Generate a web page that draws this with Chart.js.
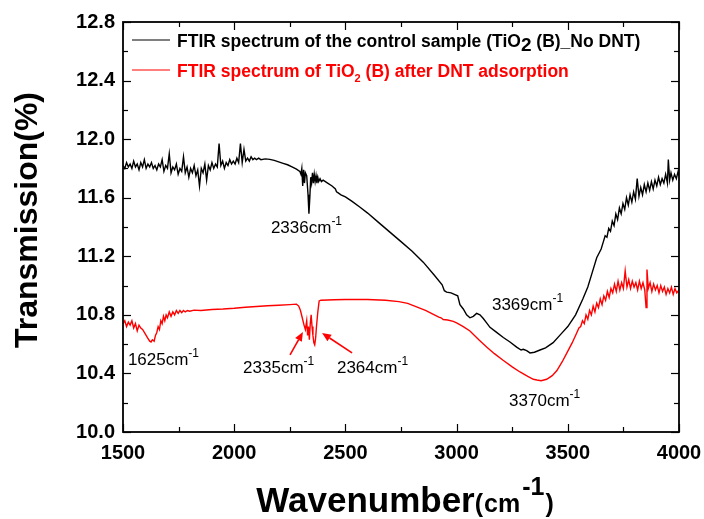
<!DOCTYPE html>
<html>
<head>
<meta charset="utf-8">
<title>FTIR spectra of TiO2 (B)</title>
<script src="https://cdn.jsdelivr.net/npm/chart.js@4.4.1/dist/chart.umd.min.js"></script>
<style>
  html, body { margin: 0; padding: 0; background: #fff; }
  canvas { display: block; }
</style>
</head>
<body>
<canvas id="ftirChart" width="704" height="519"></canvas>
<script>
// === Spectrum data: [wavenumber (cm-1), transmission (%)] ===

// Control sample, TiO2 (B) without DNT
const controlSpectrum = [
  [1500, 11.82], [1508, 11.80], [1516, 11.84], [1524, 11.81], [1532, 11.83], [1540, 11.80],
  [1548, 11.85], [1556, 11.81], [1564, 11.83], [1572, 11.79], [1580, 11.84], [1588, 11.81],
  [1596, 11.86], [1604, 11.80], [1612, 11.83], [1620, 11.81], [1628, 11.84], [1636, 11.80],
  [1644, 11.82], [1652, 11.79], [1660, 11.83], [1668, 11.81], [1676, 11.86], [1684, 11.78],
  [1692, 11.82], [1700, 11.80], [1708, 11.90], [1716, 11.77], [1724, 11.81], [1732, 11.79],
  [1740, 11.83], [1748, 11.76], [1756, 11.80], [1764, 11.78], [1772, 11.88], [1780, 11.77],
  [1788, 11.81], [1796, 11.74], [1804, 11.80], [1812, 11.77], [1820, 11.82], [1828, 11.75],
  [1836, 11.79], [1844, 11.68], [1852, 11.80], [1860, 11.77], [1868, 11.83], [1876, 11.72],
  [1884, 11.82], [1892, 11.79], [1900, 11.84], [1908, 11.80], [1916, 11.83], [1924, 11.81],
  [1932, 11.97], [1940, 11.82], [1948, 11.85], [1956, 11.80], [1964, 11.84], [1972, 11.82],
  [1980, 11.86], [1988, 11.83], [1996, 11.85], [2004, 11.83], [2012, 11.87], [2020, 11.84],
  [2028, 11.97], [2036, 11.84], [2044, 11.93], [2052, 11.85], [2060, 11.87], [2068, 11.85],
  [2076, 11.88], [2084, 11.86], [2092, 11.87], [2100, 11.86], [2110, 11.87], [2120, 11.86],
  [2140, 11.865], [2160, 11.862], [2180, 11.855], [2200, 11.845], [2220, 11.835], [2240, 11.825],
  [2260, 11.81], [2280, 11.795], [2295, 11.78],
  // CO2 region, band at 2336
  [2300, 11.76], [2304, 11.80], [2308, 11.68], [2312, 11.79], [2316, 11.70], [2320, 11.77],
  [2326, 11.75], [2332, 11.62], [2336, 11.49], [2340, 11.60], [2344, 11.74], [2348, 11.70],
  [2352, 11.77], [2356, 11.70], [2360, 11.76], [2364, 11.71], [2368, 11.75], [2372, 11.70],
  [2376, 11.74], [2380, 11.71], [2386, 11.73], [2392, 11.71], [2400, 11.72], [2410, 11.71],
  [2420, 11.70], [2440, 11.68], [2455, 11.66], [2460, 11.64], [2466, 11.635], [2480, 11.62],
  [2500, 11.605], [2530, 11.575], [2566, 11.535], [2600, 11.495], [2650, 11.43], [2700, 11.365],
  [2750, 11.30], [2800, 11.235], [2850, 11.16], [2900, 11.07], [2935, 11.005], [2945, 10.965],
  [2955, 10.955], [2975, 10.95], [2990, 10.94], [3005, 10.93], [3015, 10.87], [3030, 10.84],
  [3045, 10.80], [3060, 10.78], [3075, 10.79], [3090, 10.81], [3105, 10.80], [3120, 10.775],
  [3135, 10.745], [3150, 10.715], [3180, 10.68], [3210, 10.645], [3240, 10.615], [3270, 10.58],
  [3290, 10.56], [3300, 10.565], [3315, 10.555], [3330, 10.54], [3350, 10.545], [3375, 10.56],
  [3400, 10.575], [3434, 10.61], [3470, 10.67], [3500, 10.72], [3535, 10.80], [3568, 10.91],
  [3590, 10.99], [3610, 11.09], [3630, 11.19], [3650, 11.25], [3660, 11.30],
  [3668, 11.34], [3676, 11.33], [3684, 11.39], [3692, 11.37], [3700, 11.44], [3708, 11.41],
  [3716, 11.49], [3724, 11.45], [3732, 11.53], [3740, 11.49], [3748, 11.56], [3756, 11.52],
  [3764, 11.60], [3772, 11.55], [3780, 11.62], [3788, 11.57], [3796, 11.64], [3804, 11.59],
  [3812, 11.73], [3820, 11.61], [3828, 11.67], [3836, 11.62], [3844, 11.69], [3852, 11.64],
  [3860, 11.70], [3868, 11.65], [3876, 11.71], [3884, 11.66], [3892, 11.72], [3900, 11.68],
  [3908, 11.74], [3916, 11.69], [3924, 11.73], [3932, 11.70], [3940, 11.76], [3948, 11.70],
  [3952, 11.86], [3958, 11.72], [3964, 11.77], [3972, 11.72], [3980, 11.76], [3988, 11.73],
  [3996, 11.78], [4000, 11.75]
];

// TiO2 (B) after DNT adsorption
const adsorbedSpectrum = [
  [1500, 10.74], [1508, 10.76], [1516, 10.72], [1524, 10.75], [1532, 10.73], [1540, 10.76],
  [1548, 10.71], [1556, 10.74], [1564, 10.69], [1572, 10.73], [1580, 10.71], [1588, 10.70],
  [1596, 10.68], [1604, 10.66], [1612, 10.64], [1620, 10.62], [1626, 10.615], [1632, 10.63],
  [1640, 10.62], [1646, 10.66], [1652, 10.68], [1658, 10.72], [1664, 10.70], [1670, 10.76],
  [1676, 10.74], [1682, 10.79], [1688, 10.76], [1694, 10.80], [1700, 10.78], [1708, 10.82],
  [1716, 10.79], [1724, 10.82], [1732, 10.80], [1740, 10.83], [1748, 10.81], [1756, 10.83],
  [1764, 10.815], [1772, 10.83], [1780, 10.82], [1790, 10.83], [1800, 10.825], [1820, 10.832],
  [1850, 10.83], [1900, 10.837], [1950, 10.84], [2000, 10.845], [2050, 10.852], [2100, 10.857],
  [2150, 10.862], [2200, 10.866], [2250, 10.87], [2280, 10.873],
  // CO2 doublet, 2335 and 2364
  [2290, 10.86], [2298, 10.83], [2306, 10.78], [2314, 10.73], [2320, 10.70], [2326, 10.76],
  [2330, 10.66], [2334, 10.72], [2338, 10.63], [2342, 10.74], [2346, 10.80], [2350, 10.72],
  [2354, 10.66], [2358, 10.61], [2362, 10.595], [2366, 10.64], [2370, 10.72], [2376, 10.82],
  [2382, 10.895], [2390, 10.90], [2450, 10.903], [2500, 10.905], [2600, 10.905], [2680, 10.90],
  [2740, 10.89], [2780, 10.878], [2820, 10.855], [2860, 10.83], [2900, 10.80], [2920, 10.785],
  [2930, 10.78], [2940, 10.768], [2960, 10.765], [2985, 10.755], [3000, 10.745], [3030, 10.72],
  [3060, 10.69], [3100, 10.63], [3135, 10.58], [3170, 10.535], [3209, 10.49], [3250, 10.445],
  [3285, 10.41], [3320, 10.38], [3345, 10.36], [3361, 10.355], [3380, 10.35], [3405, 10.36],
  [3430, 10.385], [3451, 10.42], [3475, 10.48], [3496, 10.54], [3520, 10.61], [3541, 10.68],
  [3550, 10.71], [3558, 10.72], [3566, 10.76], [3574, 10.74], [3582, 10.80], [3590, 10.77],
  [3598, 10.83], [3606, 10.80], [3614, 10.86], [3622, 10.82], [3630, 10.88], [3638, 10.85],
  [3646, 10.91], [3654, 10.87], [3662, 10.93], [3670, 10.90], [3678, 10.96], [3686, 10.92],
  [3694, 10.98], [3702, 10.95], [3710, 11.01], [3718, 10.96], [3726, 11.03], [3734, 10.97],
  [3742, 11.02], [3750, 10.98], [3758, 11.10], [3766, 10.99], [3774, 11.04], [3782, 10.98],
  [3790, 11.03], [3798, 10.99], [3806, 11.02], [3814, 10.97], [3822, 11.03], [3830, 10.98],
  [3838, 11.02], [3846, 10.97], [3852, 10.85], [3856, 11.11], [3862, 10.98], [3870, 11.02],
  [3878, 10.96], [3886, 11.01], [3894, 10.97], [3902, 11.00], [3910, 10.95], [3918, 11.00],
  [3926, 10.96], [3934, 10.99], [3942, 10.94], [3950, 10.98], [3958, 10.95], [3966, 10.99],
  [3974, 10.94], [3982, 10.98], [3990, 10.95], [4000, 10.97]
];

// Axis ticks
const xTicks = [1500, 2000, 2500, 3000, 3500, 4000];
const xMinorTicks = [1750, 2250, 2750, 3250, 3750];
const yTicks = [10.0, 10.4, 10.8, 11.2, 11.6, 12.0, 12.4, 12.8];
const yMinorTicks = [10.2, 10.6, 11.0, 11.4, 11.8, 12.2, 12.6];

const FONT = 'Arial, "Liberation Sans", Helvetica, sans-serif';

// Peak labels, anchored at the left end of the text baseline (data units)
const peakNotes = [
  { text: '2336cm', x: 2165, y: 11.359 },
  { text: '1625cm', x: 1522, y: 10.458 },
  { text: '2335cm', x: 2040, y: 10.403 },
  { text: '2364cm', x: 2462, y: 10.403 },
  { text: '3369cm', x: 3159, y: 10.833 },
  { text: '3370cm', x: 3236, y: 10.178 }
];

// Red arrows pointing at the CO2 doublet (tail -> head)
const peakArrows = [
  { from: [2251, 10.526], to: [2309, 10.683] },
  { from: [2530, 10.540], to: [2395, 10.676] }
];

const toPoints = rows => rows.map(([x, y]) => ({ x, y }));

// draws a run of text pieces with different sizes / offsets, left to right
function drawRich(ctx, parts, x, y) {
  let cx = x;
  parts.forEach(p => {
    ctx.font = p.font;
    ctx.fillStyle = p.color || '#000';
    ctx.fillText(p.text, cx, y + (p.dy || 0));
    cx += ctx.measureText(p.text).width + (p.gap || 0);
  });
  return cx - x;
}

function measureRich(ctx, parts) {
  let w = 0;
  parts.forEach(p => { ctx.font = p.font; w += ctx.measureText(p.text).width + (p.gap || 0); });
  return w;
}

// frame on all four sides with inward major/minor ticks
const framePlugin = {
  id: 'frame',
  afterDraw(chart) {
    const { ctx, chartArea: a, scales: { x, y } } = chart;
    ctx.save();
    ctx.strokeStyle = '#000';
    ctx.lineWidth = 1.2;
    const seg = (x1, y1, x2, y2) => { ctx.beginPath(); ctx.moveTo(x1, y1); ctx.lineTo(x2, y2); ctx.stroke(); };
    xTicks.concat(xMinorTicks).forEach(v => {
      const len = xTicks.includes(v) ? 8 : 5;
      const px = Math.round(x.getPixelForValue(v)) + 0.5;
      seg(px, a.bottom, px, a.bottom - len);
      seg(px, a.top, px, a.top + len);
    });
    yTicks.concat(yMinorTicks).forEach(v => {
      const len = yTicks.includes(v) ? 8 : 5;
      const py = Math.round(y.getPixelForValue(v)) + 0.5;
      seg(a.left, py, a.left + len, py);
      seg(a.right, py, a.right - len, py);
    });
    ctx.lineWidth = 1.8;
    ctx.strokeRect(a.left, a.top, a.right - a.left, a.bottom - a.top);
    ctx.restore();
  }
};

// legend, peak notes, arrows and axis titles
const textPlugin = {
  id: 'texts',
  afterDraw(chart) {
    const { ctx, chartArea: a, scales: { x, y } } = chart;
    ctx.save();
    ctx.textBaseline = 'alphabetic';
    ctx.textAlign = 'left';

    // legend
    const bold = s => `bold ${s}px ${FONT}`;
    const legendRows = [
      { color: '#000', parts: [
        { text: 'FTIR spectrum of the control sample (TiO', font: bold(17.5) },
        { text: '2', font: bold(19), dy: 4 },
        { text: ' (B)_No DNT)', font: bold(17.5) }
      ] },
      { color: '#ff0000', parts: [
        { text: 'FTIR spectrum of TiO', font: bold(17.5) },
        { text: '2', font: bold(11), dy: 5 },
        { text: ' (B) after DNT adsorption', font: bold(17.5) }
      ] }
    ];
    legendRows.forEach((row, i) => {
      const ly = a.top + 18 + i * 30;
      ctx.strokeStyle = row.color;
      ctx.lineWidth = 1.2;
      ctx.beginPath();
      ctx.moveTo(a.left + 9, ly);
      ctx.lineTo(a.left + 47, ly);
      ctx.stroke();
      drawRich(ctx, row.parts.map(p => ({ ...p, color: row.color })), a.left + 54, ly + 7);
    });

    // peak notes
    peakNotes.forEach(n => {
      const px = x.getPixelForValue(n.x);
      const py = y.getPixelForValue(n.y);
      drawRich(ctx, [
        { text: n.text, font: `17px ${FONT}` },
        { text: '-1', font: `12px ${FONT}`, dy: -8 }
      ], px, py);
    });

    // arrows
    ctx.strokeStyle = '#ff0000';
    ctx.fillStyle = '#ff0000';
    ctx.lineWidth = 1.6;
    peakArrows.forEach(ar => {
      const x1 = x.getPixelForValue(ar.from[0]), y1 = y.getPixelForValue(ar.from[1]);
      const x2 = x.getPixelForValue(ar.to[0]), y2 = y.getPixelForValue(ar.to[1]);
      const ang = Math.atan2(y2 - y1, x2 - x1);
      const head = 9, half = 3.8;
      const bx = x2 - head * Math.cos(ang), by = y2 - head * Math.sin(ang);
      ctx.beginPath();
      ctx.moveTo(x1, y1);
      ctx.lineTo(bx, by);
      ctx.stroke();
      ctx.beginPath();
      ctx.moveTo(x2, y2);
      ctx.lineTo(bx + half * Math.sin(ang), by - half * Math.cos(ang));
      ctx.lineTo(bx - half * Math.sin(ang), by + half * Math.cos(ang));
      ctx.closePath();
      ctx.fill();
    });

    // y axis title
    ctx.fillStyle = '#000';
    ctx.save();
    ctx.translate(28, (a.top + a.bottom) / 2 - 7);
    ctx.rotate(-Math.PI / 2);
    ctx.font = bold(32);
    ctx.textAlign = 'center';
    ctx.textBaseline = 'middle';
    ctx.fillText('Transmission(%)', 0, 0);
    ctx.restore();

    // x axis title: Wavenumber(cm^-1)
    const titleParts = [
      { text: 'Wavenumber', font: bold(35) },
      { text: '(', font: bold(25), gap: 1 },
      { text: 'cm', font: bold(25), gap: 2 },
      { text: '-1', font: bold(25), dy: -17, gap: 1 },
      { text: ')', font: bold(25) }
    ];
    const tw = measureRich(ctx, titleParts);
    drawRich(ctx, titleParts, (a.left + a.right) / 2 + 4 - tw / 2, 512);

    ctx.restore();
  }
};

const ftirChart = new Chart(document.getElementById('ftirChart'), {
  type: 'line',
  data: {
    datasets: [
      {
        label: 'FTIR spectrum of the control sample (TiO2 (B)_No DNT)',
        data: toPoints(controlSpectrum),
        borderColor: '#000000',
        borderWidth: 1.4,
        pointRadius: 0,
        tension: 0
      },
      {
        label: 'FTIR spectrum of TiO2 (B) after DNT adsorption',
        data: toPoints(adsorbedSpectrum),
        borderColor: '#ff0000',
        borderWidth: 1.4,
        pointRadius: 0,
        tension: 0
      }
    ]
  },
  options: {
    responsive: false,
    animation: false,
    layout: { padding: { top: 22, right: 25, left: 0, bottom: 0 } },
    plugins: {
      legend: { display: false },
      tooltip: { enabled: false }
    },
    scales: {
      x: {
        type: 'linear',
        min: 1500,
        max: 4000,
        afterBuildTicks: s => { s.ticks = xTicks.map(v => ({ value: v })); },
        afterFit: s => {
          s.height = 87;
          // end labels may hang past the frame, keep the plot width fixed
          s.paddingLeft = 0;
          s.paddingRight = 0;
        },
        ticks: {
          color: '#000',
          font: { family: FONT, size: 20, weight: 'bold' },
          padding: 9,
          maxRotation: 0,
          autoSkip: false,
          callback: v => String(v)
        },
        grid: { display: false, drawTicks: false },
        border: { display: false }
      },
      y: {
        min: 10.0,
        max: 12.8,
        afterBuildTicks: s => { s.ticks = yTicks.map(v => ({ value: v })); },
        afterFit: s => { s.width = 123; },
        ticks: {
          color: '#000',
          font: { family: FONT, size: 20, weight: 'bold' },
          padding: 8,
          autoSkip: false,
          callback: v => v.toFixed(1)
        },
        grid: { display: false, drawTicks: false },
        border: { display: false }
      }
    }
  },
  plugins: [framePlugin, textPlugin]
});
</script>
</body>
</html>
